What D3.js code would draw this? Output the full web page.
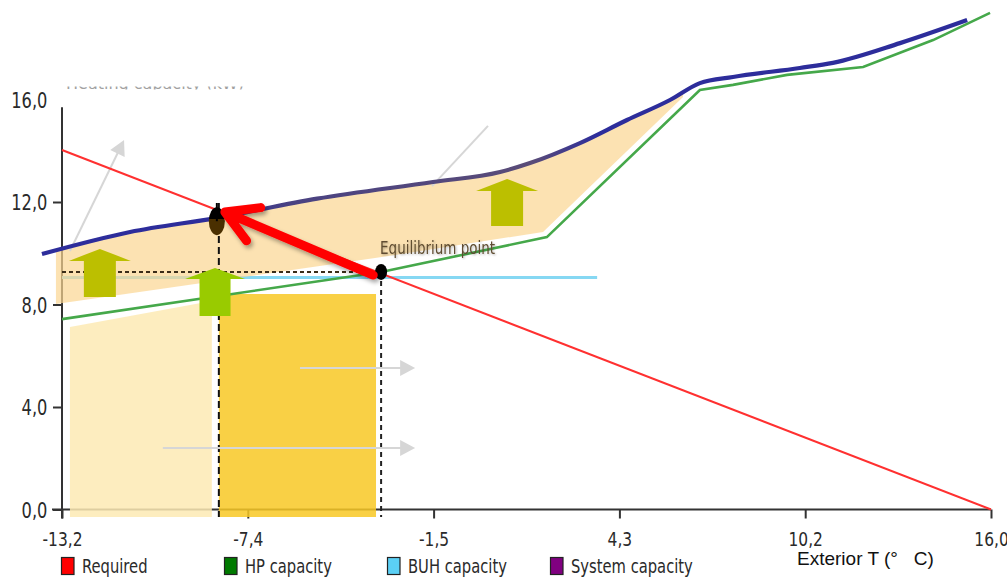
<!DOCTYPE html>
<html>
<head>
<meta charset="utf-8">
<script src="https://cdn.jsdelivr.net/npm/d3@7/dist/d3.min.js"></script>
<style>
  body { margin: 0; background: #fff; }
  svg { display: block; }
  .cond { font-family: "DejaVu Sans Condensed", "DejaVu Sans", sans-serif; font-stretch: condensed; }
</style>
</head>
<body>
<svg id="chart" width="1007" height="580"></svg>
<script>
//Ejes
const xTicks = [-13.2, -7.36, -1.52, 4.32, 10.16, 16.0];
const xTickLabels = ['-13,2', '-7,4', '-1,5', '4,3', '10,2', '16,0'];
const yTicks = [0, 4, 8, 12, 16];
const yTickLabels = ['0,0', '4,0', '8,0', '12,0', '16,0'];

//Series [T exterior, kW]
const required = [[-13.2, 14.03], [16.0, 0]];
const hpCapacity = [[-13.2, 7.43], [-3.17, 9.27], [2.04, 10.63], [6.85, 16.37], [7.89, 16.57],
  [9.59, 16.96], [11.98, 17.27], [14.18, 18.32], [15.97, 19.38]];
const buhCapacity = [[-13.2, 9.05], [3.62, 9.05]];
const systemCapacity = [[-13.83, 9.97], [-11.06, 10.83], [-8.33, 11.38], [-5.18, 12.13], [-1.54, 12.78],
  [0.57, 13.17], [1.51, 13.52], [3.08, 14.30], [4.56, 15.20], [5.91, 15.98], [6.85, 16.64],
  [7.89, 16.88], [9.99, 17.23], [11.03, 17.43], [13.14, 18.20], [15.25, 19.10]];

//Puntos
const equilibrium = [-3.17, 9.27];
const balancePoint = [-8.27, 11.25];

//Zonas
const gainUpper = [[-13.39, 10.09], [-11.06, 10.83], [-8.33, 11.38], [-5.18, 12.13], [-1.54, 12.78],
  [0.57, 13.17], [1.51, 13.52], [3.08, 14.30], [4.56, 15.20], [5.91, 15.98], [6.32, 16.25]];
const gainLower = [[-13.39, 8.02], [-3.36, 9.81], [1.92, 10.83], [6.32, 16.1]];
const hpOnlyZone = [[-12.95, 7.12], [-8.49, 8.14], [-8.49, -0.29], [-12.95, -0.29]];
const buhZone = [[-8.27, 8.41], [-3.33, 8.41], [-3.33, -0.29], [-8.27, -0.29]];

//Anotaciones
const oliveArrows = [[-12.01, 10.17, 8.29], [0.79, 12.9, 11.06]];
const greenArrows = [[-8.39, 9.42, 7.55]];
const greyArrows = [[[-12.95, 10.09], [-11.25, 14.42]], [[-5.72, 5.52], [-2.1, 5.52]], [[-10.03, 2.4], [-2.1, 2.4]]];
const greyLines = [[[-1.57, 12.62], [0.19, 14.97]]];
const redArrow = [[-3.42, 9.15], [-8.08, 11.61]];

const legendNames = ['Required', 'HP capacity', 'BUH capacity', 'System capacity'];
const legendColors = ['#ff0000', '#007a00', '#5bd0f5', '#800080'];

const svg = d3.select('#chart');

let x = d3.scaleLinear().domain([-13.2, 16.0]).range([62, 991]);
let y = d3.scaleLinear().domain([0, 16]).range([509.5, 99.5]);

let line = d3.line().x(d => x(d[0])).y(d => y(d[1]));
let smooth = d3.line().x(d => x(d[0])).y(d => y(d[1])).curve(d3.curveMonotoneX);
let poly = pts => 'M' + pts.map(d => x(d[0]) + ',' + y(d[1])).join('L') + 'Z';

//Defs
const defs = svg.append('defs');
defs.append('clipPath').attr('id', 'cutTitle')
  .append('rect').attr('x', 0).attr('y', 86.5).attr('width', 300).attr('height', 3);

let grad = defs.append('linearGradient').attr('id', 'sysGrad')
  .attr('gradientUnits', 'userSpaceOnUse')
  .attr('x1', x(-13.83)).attr('x2', x(15.25)).attr('y1', 0).attr('y2', 0);
[[0, '#2d2d9b'], [0.17, '#2d2d9b'], [0.27, '#4a4282'], [0.53, '#5a4c78'], [0.6, '#2d2d9b'], [1, '#2d2d9b']]
  .forEach(s => grad.append('stop').attr('offset', s[0]).attr('stop-color', s[1]));

let ellGrad = defs.append('linearGradient').attr('id', 'ellGrad').attr('x1', 0).attr('x2', 0).attr('y1', 0).attr('y2', 1);
ellGrad.append('stop').attr('offset', 0.42).attr('stop-color', '#000');
ellGrad.append('stop').attr('offset', 0.42).attr('stop-color', '#4a2f00');

defs.append('filter').attr('id', 'shadow').attr('x', '-20%').attr('y', '-20%').attr('width', '150%').attr('height', '160%')
  .append('feDropShadow').attr('dx', 2).attr('dy', 3).attr('stdDeviation', 2).attr('flood-opacity', 0.35);
defs.append('filter').attr('id', 'txtShadow')
  .append('feDropShadow').attr('dx', 1).attr('dy', 1).attr('stdDeviation', 0.8).attr('flood-opacity', 0.3);

//Titulo cortado
svg.append('text').attr('clip-path', 'url(#cutTitle)')
  .attr('x', 66).attr('y', 88.5).attr('font-family', 'DejaVu Sans').attr('font-size', 16)
  .attr('fill', '#a0a0a0').text('Heating capacity (kW)');

//Ejes
let xAxis = d3.axisBottom(x).tickValues(xTicks).tickFormat((d, i) => xTickLabels[i])
  .tickSize(9).tickSizeOuter(0).tickPadding(13.5);
let gx = svg.append('g').attr('transform', 'translate(0,' + y(0) + ')').call(xAxis);
gx.select('.domain').remove();

let yAxis = d3.axisLeft(y).tickValues(yTicks).tickFormat((d, i) => yTickLabels[i])
  .tickSize(9).tickSizeOuter(0).tickPadding(8);
let gy = svg.append('g').attr('transform', 'translate(' + x(-13.2) + ',0)').call(yAxis);
gy.select('.domain').remove();
gy.selectAll('.tick').filter(d => d === 16).select('line').remove();

[gx, gy].forEach(g => {
  g.selectAll('line').attr('stroke', '#333').attr('stroke-width', 2);
  g.selectAll('text').attr('class', 'cond').attr('font-size', 20).attr('fill', '#2a2a2a')
    .attr('transform', 'scale(0.86,1)');
});
gy.selectAll('text').attr('font-size', 21).attr('dy', '0.38em');

svg.append('line').attr('x1', x(-13.2) - 10).attr('x2', x(16)).attr('y1', y(0)).attr('y2', y(0))
  .attr('stroke', '#333').attr('stroke-width', 2);
svg.append('line').attr('x1', x(-13.2)).attr('x2', x(-13.2)).attr('y1', y(15.7)).attr('y2', y(0) + 9)
  .attr('stroke', '#333').attr('stroke-width', 2);

//BUH
svg.append('path').attr('d', line(buhCapacity)).attr('fill', 'none')
  .attr('stroke', '#86d8f3').attr('stroke-width', 3);

//Zona de ganancia
svg.append('path')
  .attr('d', smooth(gainUpper) + 'L' + gainLower.slice().reverse().map(d => x(d[0]) + ',' + y(d[1])).join('L') + 'Z')
  .attr('fill', '#fbd691').attr('fill-opacity', 0.7);

//Zonas HP y BUH
svg.append('path').attr('d', poly(hpOnlyZone)).attr('fill', '#fdeab4').attr('fill-opacity', 0.85);
svg.append('path').attr('d', poly(buhZone)).attr('fill', '#f8c824').attr('fill-opacity', 0.85);

//Lineas guia
svg.append('line').attr('x1', x(-13.2)).attr('x2', x(equilibrium[0]))
  .attr('y1', y(equilibrium[1])).attr('y2', y(equilibrium[1]))
  .attr('stroke', '#3a2c18').attr('stroke-width', 2).attr('stroke-dasharray', '4,3');
svg.append('line').attr('x1', x(equilibrium[0])).attr('x2', x(equilibrium[0]))
  .attr('y1', y(equilibrium[1])).attr('y2', y(-0.29))
  .attr('stroke', '#222').attr('stroke-width', 2).attr('stroke-dasharray', '5,4');
svg.append('line').attr('x1', x(balancePoint[0])).attr('x2', x(balancePoint[0]))
  .attr('y1', y(11.96)).attr('y2', y(-0.29))
  .attr('stroke', '#111').attr('stroke-width', 2).attr('stroke-dasharray', '7,4');

//Flechas grises
function arrowHead(p0, p1, len, half) {
  let a = Math.atan2(p1[1] - p0[1], p1[0] - p0[0]);
  let bx = p1[0] - len * Math.cos(a), by = p1[1] - len * Math.sin(a);
  return 'M' + p1[0] + ',' + p1[1] +
    'L' + (bx + half * Math.sin(a)) + ',' + (by - half * Math.cos(a)) +
    'L' + (bx - half * Math.sin(a)) + ',' + (by + half * Math.cos(a)) + 'Z';
}
greyArrows.forEach(a => {
  let p0 = [x(a[0][0]), y(a[0][1])], p1 = [x(a[1][0]), y(a[1][1])];
  let ang = Math.atan2(p1[1] - p0[1], p1[0] - p0[0]);
  svg.append('line').attr('x1', p0[0]).attr('y1', p0[1])
    .attr('x2', p1[0] - 10 * Math.cos(ang)).attr('y2', p1[1] - 10 * Math.sin(ang))
    .attr('stroke', '#d6d6d6').attr('stroke-width', 2);
  svg.append('path').attr('d', arrowHead(p0, p1, 15, 8)).attr('fill', '#d6d6d6');
});
greyLines.forEach(a => {
  svg.append('path').attr('d', line(a)).attr('stroke', '#d6d6d6').attr('stroke-width', 2);
});

//Series
svg.append('path').attr('d', line(required)).attr('fill', 'none')
  .attr('stroke', '#ff3030').attr('stroke-width', 2);
svg.append('path').attr('d', line(hpCapacity)).attr('fill', 'none')
  .attr('stroke', '#45a84a').attr('stroke-width', 2.6);
svg.append('path').attr('d', smooth(systemCapacity)).attr('fill', 'none')
  .attr('stroke', 'url(#sysGrad)').attr('stroke-width', 4.2);

//Flechas verticales
function upArrow(a, headW, shaftW, headH) {
  let cx = x(a[0]), top = y(a[1]), bot = y(a[2]);
  return 'M' + cx + ',' + top + 'L' + (cx + headW / 2) + ',' + (top + headH) +
    'L' + (cx + shaftW / 2) + ',' + (top + headH) + 'L' + (cx + shaftW / 2) + ',' + bot +
    'L' + (cx - shaftW / 2) + ',' + bot + 'L' + (cx - shaftW / 2) + ',' + (top + headH) +
    'L' + (cx - headW / 2) + ',' + (top + headH) + 'Z';
}
oliveArrows.forEach(a => svg.append('path').attr('d', upArrow(a, 62, 32, 12)).attr('fill', '#bcbf00'));
greenArrows.forEach(a => svg.append('path').attr('d', upArrow(a, 60, 31, 11)).attr('fill', '#99cb00'));

//Puntos
svg.append('ellipse').attr('cx', x(balancePoint[0]) - 2).attr('cy', y(balancePoint[1]))
  .attr('rx', 8).attr('ry', 14).attr('fill', 'url(#ellGrad)');
svg.append('line').attr('x1', x(balancePoint[0]) - 2).attr('x2', x(balancePoint[0]) - 2)
  .attr('y1', y(11.96)).attr('y2', y(balancePoint[1])).attr('stroke', '#000').attr('stroke-width', 2);
svg.append('ellipse').attr('cx', x(equilibrium[0])).attr('cy', y(equilibrium[1]))
  .attr('rx', 6).attr('ry', 8).attr('fill', '#000');

//Flecha roja
(function() {
  let p0 = [x(redArrow[0][0]), y(redArrow[0][1])], p1 = [x(redArrow[1][0]), y(redArrow[1][1])];
  let a = Math.atan2(p0[1] - p1[1], p0[0] - p1[0]);
  let arm = 36, spread = Math.PI / 6;
  let u = [p1[0] + arm * Math.cos(a - spread), p1[1] + arm * Math.sin(a - spread)];
  let l = [p1[0] + arm * Math.cos(a + spread), p1[1] + arm * Math.sin(a + spread)];
  svg.append('path')
    .attr('d', 'M' + p0 + 'L' + p1 + 'M' + u + 'L' + p1 + 'L' + l)
    .attr('fill', 'none').attr('stroke', '#ff0000').attr('stroke-width', 9)
    .attr('stroke-linecap', 'round').attr('stroke-linejoin', 'round')
    .attr('filter', 'url(#shadow)');
})();

//Etiqueta
svg.append('text').attr('class', 'cond')
  .attr('x', x(equilibrium[0]) - 1).attr('y', y(equilibrium[1]) - 18)
  .attr('font-size', 17).attr('fill', '#5e4c30')
  .attr('textLength', 115).attr('lengthAdjust', 'spacingAndGlyphs')
  .attr('filter', 'url(#txtShadow)')
  .text('Equilibrium point');

//Leyenda
let leg = svg.append('g').selectAll('g').data(legendNames).enter().append('g')
  .attr('transform', (d, i) => 'translate(' + (61 + i * 163) + ',557)');
leg.append('rect').attr('x', 0.5).attr('y', 0.5).attr('width', 12.5).attr('height', 17)
  .attr('fill', (d, i) => legendColors[i]).attr('stroke', '#222').attr('stroke-width', 1.2);
leg.append('text').attr('class', 'cond').attr('x', 0).attr('y', 16)
  .attr('font-size', 20).attr('fill', '#2a2a2a')
  .attr('transform', 'translate(21,0) scale(0.82,1)')
  .text(d => d);

svg.append('text').attr('x', 797).attr('y', 565)
  .attr('font-family', '"Liberation Sans", Arial, sans-serif').attr('font-size', 19).attr('fill', '#111')
  .style('white-space', 'pre')
  .text('Exterior T (°   C)');
</script>
</body>
</html>
